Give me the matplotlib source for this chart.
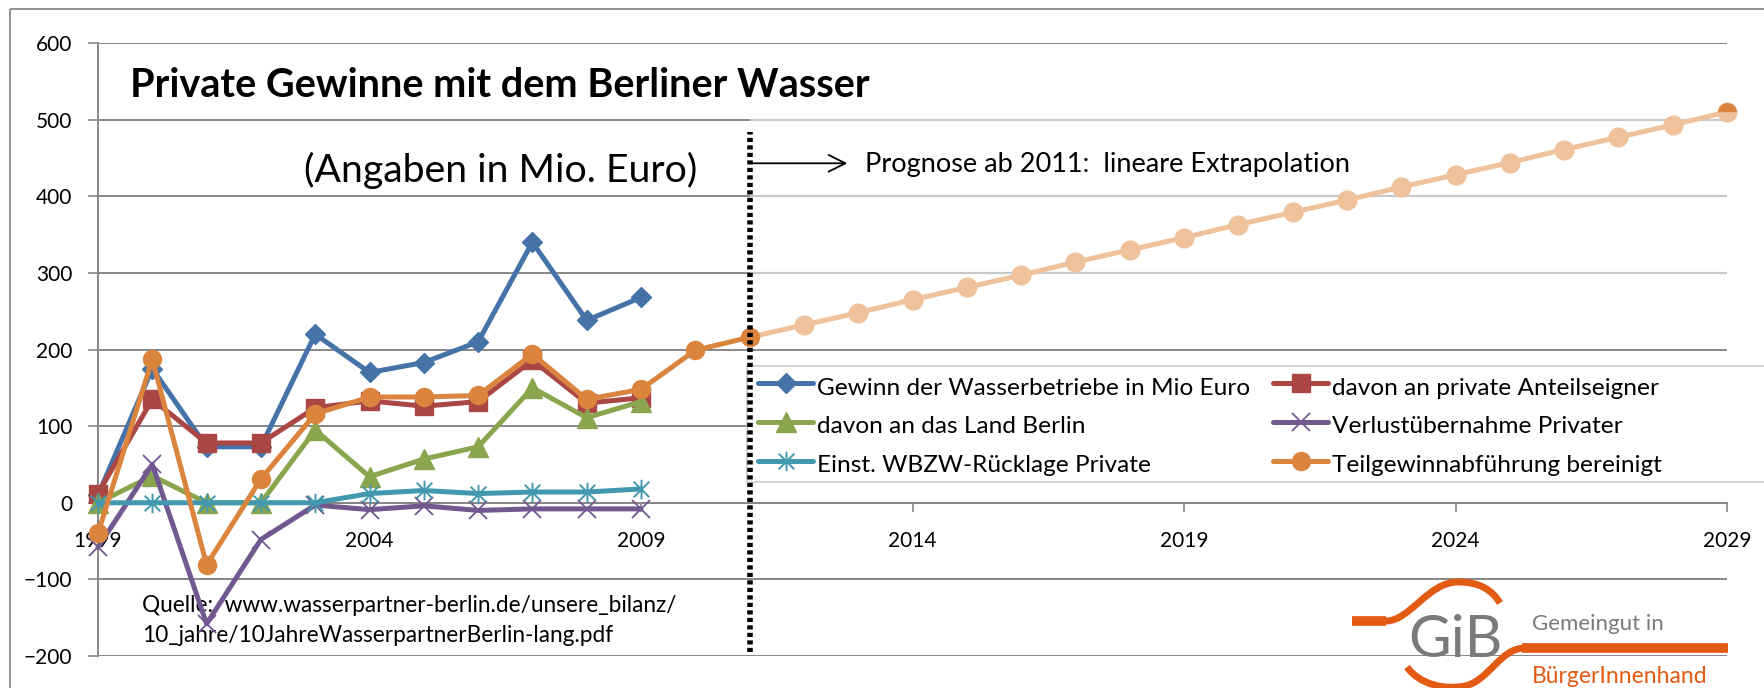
import matplotlib
matplotlib.use("Agg")
import matplotlib.pyplot as plt
from matplotlib.transforms import Affine2D
from matplotlib.path import Path
from matplotlib.patches import PathPatch, Rectangle
from matplotlib.lines import Line2D

# ---------------- data ----------------
years = [1999, 2000, 2001, 2002, 2003, 2004, 2005, 2006, 2007, 2008, 2009]
gewinn = [10, 175, 73, 73, 220, 170, 183, 210, 340, 238, 268]
private_anteil = [12, 135, 78, 78, 124, 133, 126, 132, 186, 130, 137]
land_berlin = [0, 35, 0, 0, 95, 34, 57, 73, 150, 111, 132]
verlust = [-58, 50, -158, -48, -3, -9, -4, -10, -8, -8, -8]
ruecklage = [0, 0, 0, 0, 0, 12, 16, 12, 14, 14, 18]
teil_years = [1999, 2000, 2001, 2002, 2003, 2004, 2005, 2006, 2007, 2008, 2009, 2010, 2011]
teilgewinn = [-40, 187, -81, 31, 116, 138, 138, 140, 194, 135, 148, 199, 216]
prog_years = [2011, 2012, 2013, 2014, 2015, 2016, 2017, 2018, 2019, 2020,
              2021, 2022, 2023, 2024, 2025, 2026, 2027, 2028, 2029]
prognose = [216, 232, 248, 265, 281, 297, 314, 330, 346, 363,
            379, 395, 412, 428, 444, 461, 477, 493, 510]

series_labels = ["Gewinn der Wasserbetriebe in Mio Euro",
                 "davon an private Anteilseigner",
                 "davon an das Land Berlin",
                 "Verlustübernahme Privater",
                 "Einst. WBZW-Rücklage Private",
                 "Teilgewinnabführung bereinigt"]
x_ticks = [1999, 2004, 2009, 2014, 2019, 2024, 2029]
y_ticks = [-200, -100, 0, 100, 200, 300, 400, 500, 600]
split_year = 2011

# ---------------- style ----------------
plt.rcParams['font.family'] = ['Lato', 'DejaVu Sans']
W, H = 1764, 688
fig = plt.figure(figsize=(W / 100, H / 100), dpi=100)
T = Affine2D().scale(1, -1).translate(0, H)   # top-left pixel coordinates

c_blue, c_red, c_green = '#4572A7', '#AA4643', '#89A54E'
c_purple, c_teal, c_orange = '#71588F', '#4198AF', '#DB843D'
c_light = '#EFC29C'
grid_dark, grid_light = '#878787', '#c9c9c9'

ax = fig.add_axes([98 / W, 1 - 656 / H, (1727 - 98) / W, (656 - 43) / H])
ax.set_xlim(1999, 2029)
ax.set_ylim(-200, 600)
ax.set_yticks(y_ticks)
ax.set_xticks(x_ticks)
ax.set_axisbelow(True)
ax.grid(axis='y', color=grid_dark, lw=1.4)
ax.grid(axis='x', visible=False)
ax.hlines([300, 400, 500], split_year, 2029, color=grid_light, lw=1.6, zorder=0.7)
for s in ['top', 'right']:
    ax.spines[s].set_visible(False)
ax.spines['bottom'].set_position(('data', 0))
ax.spines['bottom'].set_color(grid_dark)
ax.spines['bottom'].set_linewidth(1.4)
ax.spines['left'].set_color(grid_dark)
ax.spines['left'].set_linewidth(1.4)
ax.tick_params(axis='y', direction='out', length=7, width=1.2, color=grid_dark,
               pad=11.5, labelsize=15)
ax.tick_params(axis='x', direction='out', length=6.5, width=1.2, color=grid_dark,
               pad=14, labelsize=15)

star = Path([(0, -1), (0, 1), (-0.8, -0.8), (0.8, 0.8), (-0.8, 0.8), (0.8, -0.8)],
            [Path.MOVETO, Path.LINETO, Path.MOVETO, Path.LINETO, Path.MOVETO, Path.LINETO])

LW = 3.6
styles = [
    dict(color=c_blue, marker='D', ms=10.5),
    dict(color=c_red, marker='s', ms=12.5),
    dict(color=c_green, marker='^', ms=14),
    dict(color=c_purple, marker='x', ms=13, mew=1.3),
    dict(color=c_teal, marker=star, ms=14, mew=1.4),
    dict(color=c_orange, marker='o', ms=13),
]
data = [(years, gewinn), (years, private_anteil), (years, land_berlin),
        (years, verlust), (years, ruecklage), (teil_years, teilgewinn)]

# forecast (light) below
ax.plot(prog_years, prognose, color=c_light, lw=LW, marker='o', ms=13.5,
        markevery=list(range(1, len(prog_years))), solid_capstyle='round',
        zorder=2, clip_on=False)
ax.plot(prog_years[-1:], prognose[-1:], ls='none', marker='o', ms=13.5,
        fillstyle='top', markerfacecolor=c_orange, markerfacecoloralt=c_light,
        markeredgecolor='none', zorder=2.1, clip_on=False)

for i, ((xs, ys), st) in enumerate(zip(data, styles)):
    kw = dict(st)
    kw.setdefault('mew', 1)
    ax.plot(xs, ys, lw=LW, solid_joinstyle='round', solid_capstyle='round',
            markeredgecolor=kw['color'], zorder=3 + i * 0.1, clip_on=False, **kw)

# dotted separation line
ax.vlines(split_year, -195, 484, color='black', lw=4.0,
          linestyles=[(0, (0.75, 0.6))], zorder=8)

# arrow + annotations
ax.annotate('', xy=(2012.8, 443), xytext=(split_year + 0.05, 443),
            arrowprops=dict(arrowstyle='->,head_length=0.8,head_width=0.4',
                            lw=1.3, color='black', mutation_scale=15,
                            shrinkA=0, shrinkB=0), zorder=8)
ax.text(865, 172, "Prognose ab 2011:  lineare Extrapolation", transform=T,
        fontsize=19.5, va='baseline', ha='left')
ax.text(130, 97, "Private Gewinne mit dem Berliner Wasser", transform=T,
        fontsize=28.5, fontweight='bold', va='baseline', ha='left')
ax.text(697, 182, "(Angaben in Mio. Euro)", transform=T,
        fontsize=28.3, va='baseline', ha='right')
ax.text(142, 612, "Quelle:  www.wasserpartner-berlin.de/unsere_bilanz/", transform=T,
        fontsize=16.3, va='baseline', ha='left')
ax.text(142, 642, "10_jahre/10JahreWasserpartnerBerlin-lang.pdf", transform=T,
        fontsize=16.3, va='baseline', ha='left')

# legend (manual, white box)
ax.add_patch(Rectangle((747, 366), 1200, 116, transform=T, facecolor='white',
                       edgecolor='#cccccc', lw=1.2, clip_on=False, zorder=6))
order = [(0, 0, 0), (1, 1, 0), (2, 0, 1), (3, 1, 1), (4, 0, 2), (5, 1, 2)]
col_x = [758, 1273]
row_y = [383, 422, 461]
row_base = [395, 433, 472]
for idx, col, row in order:
    st = dict(styles[idx])
    x0, y = col_x[col], row_y[row]
    ax.add_line(Line2D([x0, x0 + 55], [y, y], transform=T, color=st['color'], lw=LW,
                       solid_capstyle='round', clip_on=False, zorder=7))
    mk = dict(st)
    mk.setdefault('mew', 1)
    ax.add_line(Line2D([x0 + 27.5], [y], transform=T, ls='none',
                       markeredgecolor=mk['color'], clip_on=False, zorder=7.1, **mk))
    ax.text(x0 + 59, row_base[row], series_labels[idx], transform=T, fontsize=17.6,
            va='baseline', ha='left', zorder=7.2)

# outer chart frame
fig.add_artist(Rectangle((10, 9), 2000, 1000, transform=T, fill=False,
                         edgecolor='#8a8a8a', lw=1.3))

# GiB logo
logo_orange = '#E35A14'
top_curve = Path([(1352, 621), (1386, 621), (1410, 621), (1428, 582), (1458, 582),
                  (1480, 582), (1492, 590), (1500, 603)],
                 [Path.MOVETO, Path.LINETO, Path.CURVE4, Path.CURVE4, Path.CURVE4,
                  Path.CURVE4, Path.CURVE4, Path.CURVE4])
bottom_curve = Path([(1407, 667), (1420, 685), (1445, 690), (1465, 686),
                     (1490, 680), (1500, 648), (1525, 648), (1728, 648)],
                    [Path.MOVETO, Path.CURVE4, Path.CURVE4, Path.CURVE4,
                     Path.CURVE4, Path.CURVE4, Path.CURVE4, Path.LINETO])
fig.add_artist(PathPatch(top_curve, transform=T, fill=False, edgecolor=logo_orange,
                         lw=5, capstyle='butt'))
fig.add_artist(PathPatch(bottom_curve, transform=T, fill=False, edgecolor=logo_orange,
                         lw=5, capstyle='butt'))
fig.add_artist(Line2D([1352, 1386], [621, 621], transform=T, color=logo_orange, lw=7,
                      solid_capstyle='butt'))
fig.add_artist(Line2D([1522, 1728], [648, 648], transform=T, color=logo_orange, lw=7,
                      solid_capstyle='butt'))
fig.text(1408, 657, "GiB", transform=T, fontsize=42, fontweight='normal',
         color='#7a7a7a', va='baseline', ha='left')
fig.text(1532, 630, "Gemeingut in", transform=T, fontsize=16,
         color='#7a7a7a', va='baseline', ha='left')
fig.text(1532, 683, "BürgerInnenhand", transform=T, fontsize=16.5,
         color=logo_orange, va='baseline', ha='left')

fig.savefig("out.png", dpi=100)
